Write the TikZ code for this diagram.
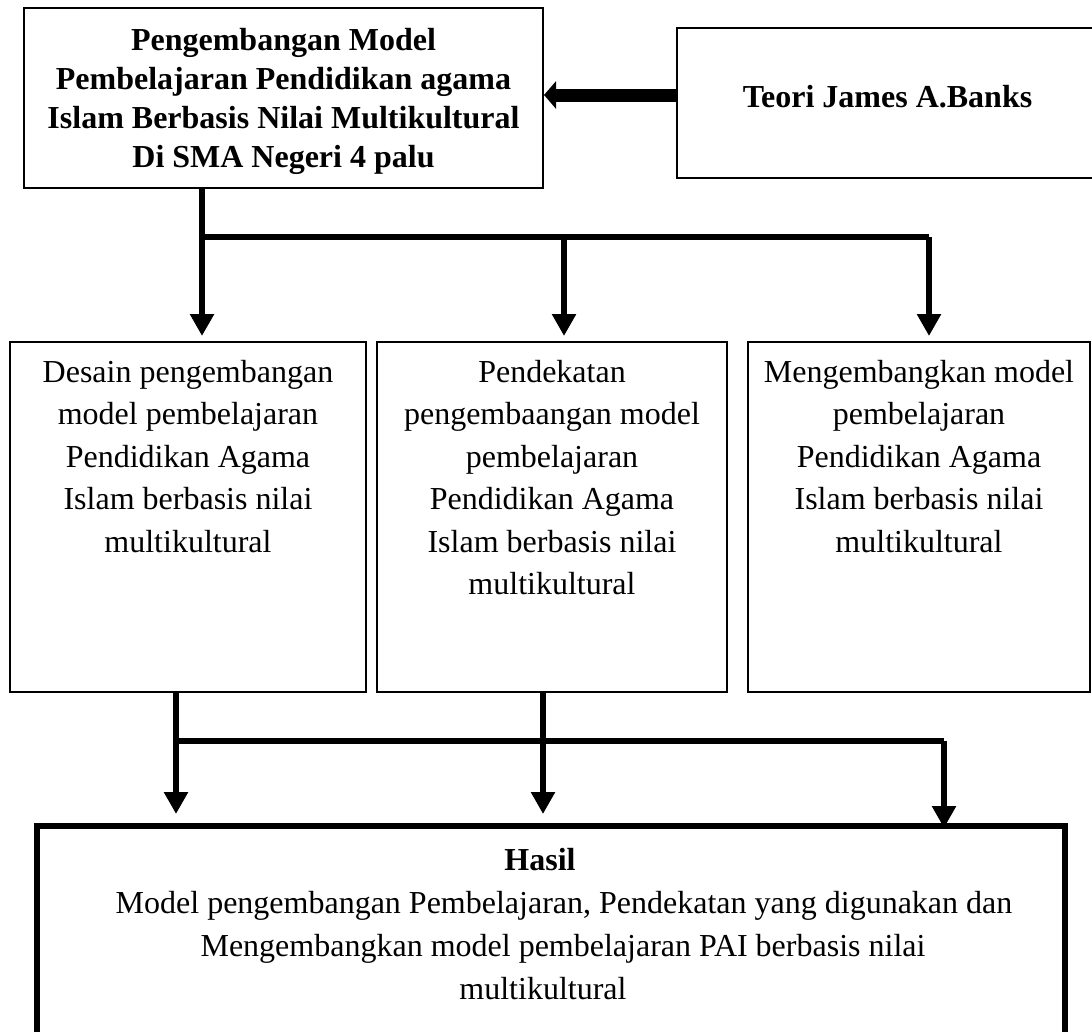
\documentclass[tikz,border=0pt]{standalone}
\usepackage{fontspec}
\setmainfont{Liberation Serif}
\usetikzlibrary{arrows.meta}
\begin{document}
\begin{tikzpicture}[x=1pt,y=-1pt,
  thinbox/.style={draw, line width=2pt, inner sep=0pt},
  thickbox/.style={draw, line width=6pt, inner sep=0pt},
  txt/.style={font=\fontsize{32pt}{42.5pt}\selectfont, align=center, inner sep=0pt},
  boldtxt/.style={font=\fontsize{32pt}{39pt}\selectfont\bfseries, align=center, inner sep=0pt},
  restxt/.style={font=\fontsize{32pt}{43pt}\selectfont, align=center, inner sep=0pt},
  conn/.style={line width=6.5pt, -{Triangle[length=22pt,width=23pt]}},
  connline/.style={line width=6.5pt},
  bigarrow/.style={line width=13pt, -{Triangle[length=12pt,width=27pt]}}
]
\path[fill=white] (0,0) rectangle (1092,1031);
\useasboundingbox (0,0) rectangle (1092,1031);

% boxes
\node[thinbox, minimum width=519pt, minimum height=180pt] (top) at (283.5,98) {};
\node[thinbox, minimum width=423pt, minimum height=150pt] (teori) at (888.5,103) {};
\node[thinbox, minimum width=356pt, minimum height=350pt] (b1) at (188,517) {};
\node[thinbox, minimum width=350pt, minimum height=350pt] (b2) at (552,517) {};
\node[thinbox, minimum width=342pt, minimum height=350pt] (b3) at (919,517) {};
\node[thickbox, minimum width=1028pt, minimum height=224pt] (hasil) at (551,938) {};

% texts
\node[boldtxt, anchor=north] (toptext) at (283.5,28)
  {Pengembangan Model\\Pembelajaran Pendidikan agama\\Islam Berbasis Nilai Multikultural\\Di SMA Negeri 4 palu};
\node[boldtxt, anchor=base] (teoritext) at (887.5,107) {Teori James A.Banks};
\node[txt, anchor=north] (b1text) at (188,360)
  {Desain pengembangan\\model pembelajaran\\Pendidikan Agama\\Islam berbasis nilai\\multikultural};
\node[txt, anchor=north] (b2text) at (552,360)
  {Pendekatan\\pengembaangan model\\pembelajaran\\Pendidikan Agama\\Islam berbasis nilai\\multikultural};
\node[txt, anchor=north] (b3text) at (919,360)
  {Mengembangkan model\\pembelajaran\\Pendidikan Agama\\Islam berbasis nilai\\multikultural};
\node[restxt, anchor=north] (hasiltext) at (556,848)
  {\textbf{Hasil}\hspace*{32pt}\\\hspace*{16pt}Model pengembangan Pembelajaran, Pendekatan yang digunakan dan\\\hspace*{14pt}Mengembangkan model pembelajaran PAI berbasis nilai\\multikultural\hspace*{26pt}};

% junction coordinates
\coordinate (ja) at (202,237);
\coordinate (jm) at (564,237);
\coordinate (jb) at (929,237);
\coordinate (jt) at (0,95);
\coordinate (jc) at (176,741);
\coordinate (je) at (543,741);
\coordinate (jd) at (944,741);

% theory arrow
\draw[bigarrow] (jt -| teori.west) -- (jt -| top.east);

% upper connectors
\draw[conn] (ja |- top.south) -- ([yshift=5pt]ja |- b1.north);
\draw[connline] (ja) -- (jb);
\draw[conn] (jm) -- ([yshift=5pt]jm |- b2.north);
\draw[conn] (jb) -- ([yshift=5pt]jb |- b3.north);

% lower connectors
\draw[conn] (jc |- b1.south) -- ([yshift=9pt]jc |- hasil.north);
\draw[conn] (je |- b2.south) -- ([yshift=9pt]je |- hasil.north);
\draw[connline] (jc) -- (jd);
\draw[conn] (jd) -- ([yshift=-5pt]jd |- hasil.north);
\end{tikzpicture}
\end{document}
